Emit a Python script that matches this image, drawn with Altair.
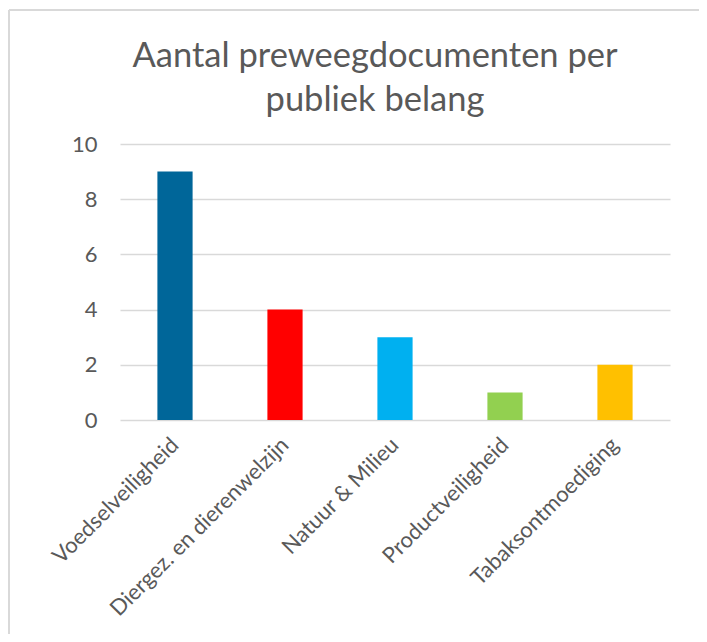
import altair as alt
import pandas as pd

categories = ["Voedselveiligheid", "Diergez. en dierenwelzijn", "Natuur & Milieu",
              "Productveiligheid", "Tabaksontmoediging"]
values = [9, 4, 3, 1, 2]
colors = ["#006699", "#FF0000", "#00B0F0", "#92D050", "#FFC000"]
y_ticks = [0, 2, 4, 6, 8, 10]

df = pd.DataFrame({"cat": categories, "val": values, "col": colors})

FONT = "Lato"
GREY = "#595959"

bars = alt.Chart(df).mark_bar().encode(
    x=alt.X("cat:N", sort=categories, title=None,
            scale=alt.Scale(paddingInner=0.68, paddingOuter=0.34),
            axis=alt.Axis(labelAngle=-45, labelAlign="right", labelBaseline="middle",
                          labelFontSize=22, labelColor=GREY, labelFont=FONT,
                          ticks=False, domain=False, labelPadding=21, labelLimit=0)),
    y=alt.Y("val:Q", title=None,
            scale=alt.Scale(domain=[0, 10], nice=False),
            axis=alt.Axis(values=y_ticks, labelFontSize=22, labelColor=GREY, labelFont=FONT,
                          ticks=False, domain=False, labelPadding=23,
                          gridColor="#D9D9D9", gridWidth=1.5)),
    color=alt.Color("col:N", scale=None, legend=None),
)

border = alt.Chart(df).mark_rule(color="#D9D9D9", strokeWidth=1.5).encode(
    x=alt.value(-111), x2=alt.value(600), y=alt.value(-134)
) + alt.Chart(df).mark_rule(color="#D9D9D9", strokeWidth=1.5).encode(
    x=alt.value(-111), y=alt.value(-134), y2=alt.value(520)
)

chart = alt.layer(bars, border).properties(
    width=550, height=276,
    autosize=alt.AutoSizeParams(type="none"),
    padding={"left": 112, "top": 136, "right": 29, "bottom": 214},
    title=alt.TitleParams(["Aantal preweegdocumenten per", "publiek belang"],
                          font=FONT, fontSize=34.5, fontWeight="normal", color=GREY,
                          anchor="middle", dx=-20, offset=-109, lineHeight=44),
).configure(background="white").configure_view(stroke=None)

chart.save("out.html", embed_options={"renderer": "svg", "actions": False})
